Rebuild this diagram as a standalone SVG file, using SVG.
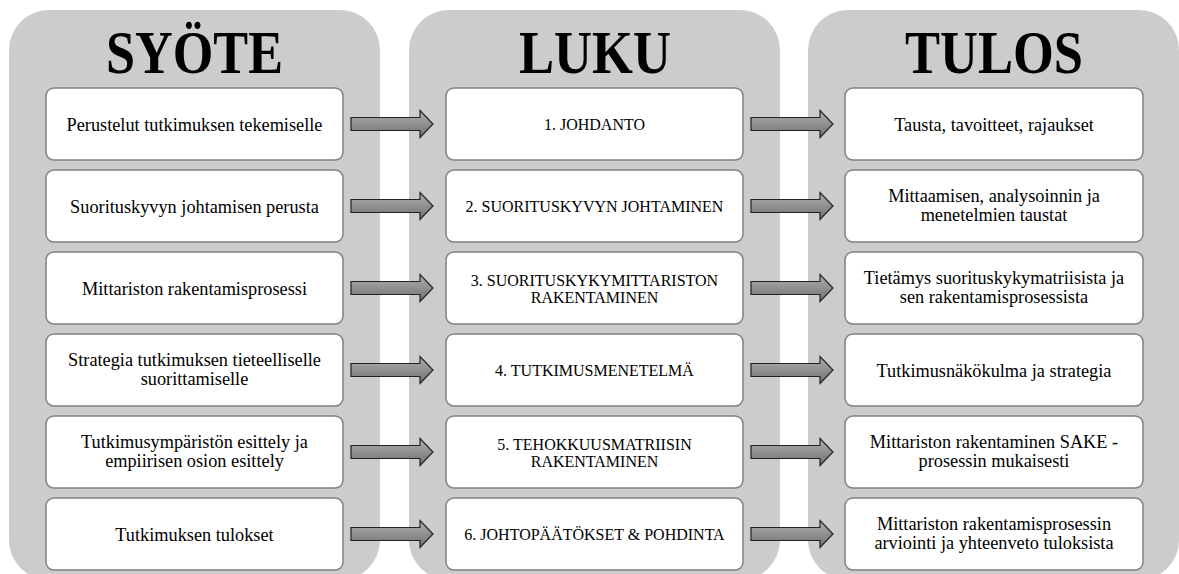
<svg xmlns="http://www.w3.org/2000/svg" width="1179" height="574" viewBox="0 0 1179 574">
<defs>
<linearGradient id="ag" x1="0" y1="0" x2="0" y2="1">
<stop offset="0" stop-color="#b0b0b0"/>
<stop offset="1" stop-color="#707070"/>
</linearGradient>
<path id="arrow" d="M0,-6.5 H69 V-13.5 L82,0 L69,13.5 V6.5 H0 Z" fill="url(#ag)" stroke="#222" stroke-width="1.2" stroke-linejoin="miter"/>
</defs>
<style>
.panel{fill:#cccccc}
.box{fill:#ffffff;stroke:#808080;stroke-width:1.5}
.hdr{font-family:"Liberation Serif","Times New Roman",serif;font-weight:bold;font-size:61px;fill:#000;text-anchor:middle}
.t{font-family:"Liberation Serif","Times New Roman",serif;font-size:18.3px;fill:#000;text-anchor:middle}
.m{font-family:"Liberation Serif","Times New Roman",serif;font-size:16px;fill:#000;text-anchor:middle}
</style>
<rect width="1179" height="574" fill="#ffffff"/>
<g id="panel-syote">
<rect class="panel" x="9" y="10" width="371" height="570" rx="40"/>
<text class="hdr" x="194.5" y="72.5" textLength="177" lengthAdjust="spacingAndGlyphs">SYÖTE</text>
</g>
<g id="panel-luku">
<rect class="panel" x="409" y="10" width="371" height="570" rx="40"/>
<text class="hdr" x="595" y="72.5" textLength="152" lengthAdjust="spacingAndGlyphs">LUKU</text>
</g>
<g id="panel-tulos">
<rect class="panel" x="808" y="10" width="371" height="570" rx="40"/>
<text class="hdr" x="994" y="72.5" textLength="178" lengthAdjust="spacingAndGlyphs">TULOS</text>
</g>

<g id="in1"><rect class="box" x="46" y="88" width="297" height="72" rx="8"/><text class="t" x="194.5" y="130.5">Perustelut tutkimuksen tekemiselle</text></g>
<g id="in2"><rect class="box" x="46" y="170" width="297" height="72" rx="8"/><text class="t" x="194.5" y="212.5">Suorituskyvyn johtamisen perusta</text></g>
<g id="in3"><rect class="box" x="46" y="252" width="297" height="72" rx="8"/><text class="t" x="194.5" y="294.5">Mittariston rakentamisprosessi</text></g>
<g id="in4"><rect class="box" x="46" y="334" width="297" height="72" rx="8"/><text class="t" x="194.5" y="365.5">Strategia tutkimuksen tieteelliselle</text><text class="t" x="194.5" y="384.5">suorittamiselle</text></g>
<g id="in5"><rect class="box" x="46" y="416" width="297" height="72" rx="8"/><text class="t" x="194.5" y="447.5">Tutkimusympäristön esittely ja</text><text class="t" x="194.5" y="466.5">empiirisen osion esittely</text></g>
<g id="in6"><rect class="box" x="46" y="498" width="297" height="72" rx="8"/><text class="t" x="194.5" y="540.5">Tutkimuksen tulokset</text></g>

<g id="ch1"><rect class="box" x="446" y="88" width="297" height="72" rx="8"/><text class="m" x="594.5" y="130">1. JOHDANTO</text></g>
<g id="ch2"><rect class="box" x="446" y="170" width="297" height="72" rx="8"/><text class="m" x="594.5" y="212">2. SUORITUSKYVYN JOHTAMINEN</text></g>
<g id="ch3"><rect class="box" x="446" y="252" width="297" height="72" rx="8"/><text class="m" x="594.5" y="285.5">3. SUORITUSKYKYMITTARISTON</text><text class="m" x="594.5" y="302.5">RAKENTAMINEN</text></g>
<g id="ch4"><rect class="box" x="446" y="334" width="297" height="72" rx="8"/><text class="m" x="594.5" y="376">4. TUTKIMUSMENETELMÄ</text></g>
<g id="ch5"><rect class="box" x="446" y="416" width="297" height="72" rx="8"/><text class="m" x="594.5" y="449.5">5. TEHOKKUUSMATRIISIN</text><text class="m" x="594.5" y="466.5">RAKENTAMINEN</text></g>
<g id="ch6"><rect class="box" x="446" y="498" width="297" height="72" rx="8"/><text class="m" x="594.5" y="540">6. JOHTOPÄÄTÖKSET &amp; POHDINTA</text></g>

<g id="out1"><rect class="box" x="845" y="88" width="298" height="72" rx="8"/><text class="t" x="994" y="130.5">Tausta, tavoitteet, rajaukset</text></g>
<g id="out2"><rect class="box" x="845" y="170" width="298" height="72" rx="8"/><text class="t" x="994" y="201.5">Mittaamisen, analysoinnin ja</text><text class="t" x="994" y="220.5">menetelmien taustat</text></g>
<g id="out3"><rect class="box" x="845" y="252" width="298" height="72" rx="8"/><text class="t" x="994" y="283.5">Tietämys suorituskykymatriisista ja</text><text class="t" x="994" y="302.5">sen rakentamisprosessista</text></g>
<g id="out4"><rect class="box" x="845" y="334" width="298" height="72" rx="8"/><text class="t" x="994" y="376.5">Tutkimusnäkökulma ja strategia</text></g>
<g id="out5"><rect class="box" x="845" y="416" width="298" height="72" rx="8"/><text class="t" x="994" y="447.5">Mittariston rakentaminen SAKE -</text><text class="t" x="994" y="466.5">prosessin mukaisesti</text></g>
<g id="out6"><rect class="box" x="845" y="498" width="298" height="72" rx="8"/><text class="t" x="994" y="529.5">Mittariston rakentamisprosessin</text><text class="t" x="994" y="548.5">arviointi ja yhteenveto tuloksista</text></g>

<g id="connectors">
<use href="#arrow" x="351" y="124"/>
<use href="#arrow" x="351" y="206"/>
<use href="#arrow" x="351" y="288"/>
<use href="#arrow" x="351" y="370"/>
<use href="#arrow" x="351" y="452"/>
<use href="#arrow" x="351" y="534"/>
<use href="#arrow" x="751" y="124"/>
<use href="#arrow" x="751" y="206"/>
<use href="#arrow" x="751" y="288"/>
<use href="#arrow" x="751" y="370"/>
<use href="#arrow" x="751" y="452"/>
<use href="#arrow" x="751" y="534"/>
</g>
</svg>
